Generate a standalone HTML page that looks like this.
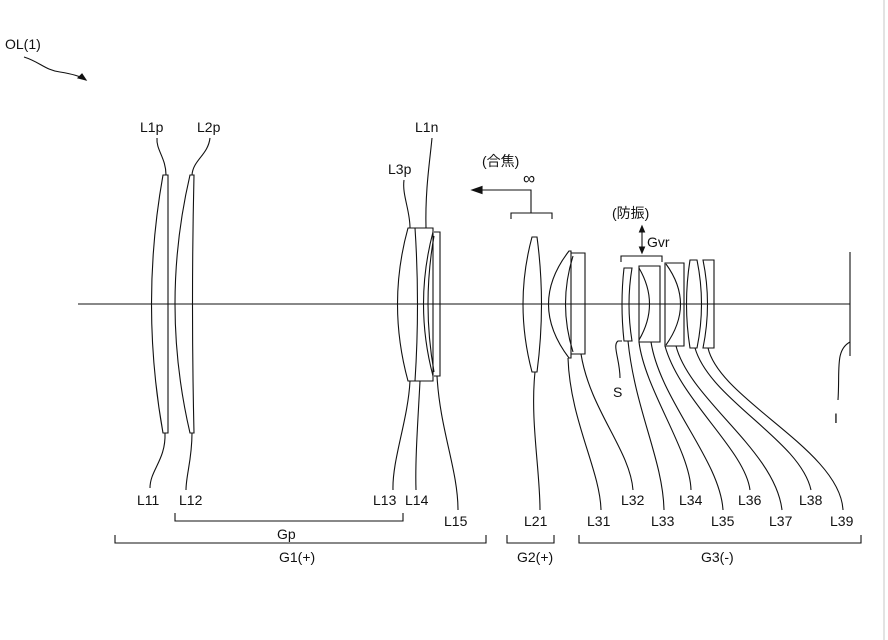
<!DOCTYPE html>
<html><head><meta charset="utf-8"><style>
html,body{margin:0;padding:0;background:#fff;}
svg{display:block}
text{font-family:"Liberation Sans","Noto Sans CJK JP",sans-serif;font-size:14px;fill:#111}
</style></head><body>
<svg width="888" height="640" viewBox="0 0 888 640" xmlns="http://www.w3.org/2000/svg">
<g fill="none" stroke="#111" stroke-width="1.1">
<line x1="884" y1="0" x2="884" y2="640" stroke="#ccc"/>
<line x1="78" y1="304" x2="850" y2="304"/>
<line x1="850" y1="252" x2="850" y2="356"/>
<path d="M24 57 C40 62,45 70,60 72 C72 74,80 76,86 80"/>
<path d="M86 80 L78 78 L82 74 Z" fill="#111"/>
<path d="M163 175 Q140 304 163 433 L168 433 L168 175 Z"/>
<path d="M190 175 Q160 304 190 433 L194 433 Q191 304 194 175 Z"/>
<path d="M408 228 Q387 304 408 381 L433 381 L433 228 Z"/>
<path d="M415 228 Q420 304 415 381"/>
<path d="M433 232 Q414 304 433 376"/>
<path d="M434 232 L440 232 L440 376 L434 376"/>
<path d="M434 236 Q422 304 434 372"/>
<path d="M532 237 L537 237 Q546 304 537 372 L532 372 Q514 304 532 237 Z"/>
<path d="M569 251 Q528 304 569 358 L571 358 L571 251 Z"/>
<path d="M571 253 L585 253 L585 354 L571 354"/>
<path d="M573 256 Q558 304 573 352"/>
<path d="M624 268 L632 268 Q626 304 632 341 L624 341 Q620 304 624 268 Z"/>
<path d="M639 266 L660 266 L660 342 L639 342 Z"/>
<path d="M639 268 Q660 304 639 340"/>
<path d="M665 263 L684 263 L684 346 L665 346 Z"/>
<path d="M666 264 Q695 304 666 345"/>
<path d="M690 260 L697 260 Q706 304 697 348 L690 348 Q683 304 690 260 Z"/>
<path d="M703 260 L714 260 L714 348 L703 348 Q712 304 703 260 Z"/>
<path d="M511 219 L511 213 L552 213 L552 219"/>
<path d="M531 213 L531 190 L480 190"/>
<path d="M472 190 L482 186.5 L482 193.5 Z" fill="#111"/>
<path d="M621 262 L621 256 L662 256 L662 262"/>
<line x1="642" y1="230" x2="642" y2="249"/>
<path d="M642 226 L639.5 232 L644.5 232 Z M642 253 L639.5 247 L644.5 247 Z" fill="#111"/>
<path d="M157 138 C156 150,166 158,166 175"/>
<path d="M210 138 C208 155,193 160,192 175"/>
<path d="M432 138 C430 160,425 190,426 228"/>
<path d="M404 180 C402 195,410 210,410 228"/>
<path d="M165 433 C166 460,150 470,150 488"/>
<path d="M192 433 C192 460,186 475,186 490"/>
<path d="M410 381 C408 420,392 460,393 490"/>
<path d="M420 381 C418 420,415 460,416 490"/>
<path d="M437 376 C440 430,458 470,458 510"/>
<path d="M535 372 C530 420,540 470,540 510"/>
<path d="M568 358 C570 420,600 470,601 510"/>
<path d="M581 354 C590 410,630 450,633 490"/>
<path d="M622 341 L618 341 C612 345,620 360,620 378"/>
<path d="M628 341 C635 410,663 460,664 510"/>
<path d="M639 342 C645 390,690 450,691 490"/>
<path d="M651 342 C660 400,720 460,723 510"/>
<path d="M665 346 C680 400,745 450,750 490"/>
<path d="M676 346 C690 400,775 450,782 510"/>
<path d="M695 348 C710 400,800 440,811 490"/>
<path d="M708 348 C720 400,840 450,843 510"/>
<path d="M850 342 C835 350,840 370,838 400"/>
<path d="M175 513 L175 521 L403 521 L403 513"/>
<path d="M115 535 L115 543 L486 543 L486 535"/>
<path d="M507 535 L507 543 L554 543 L554 535"/>
<path d="M579 535 L579 543 L861 543 L861 535"/>
</g>
<g>
<text x="5" y="49">OL(1)</text>
<text x="140" y="132">L1p</text>
<text x="197" y="132">L2p</text>
<text x="415" y="132">L1n</text>
<text x="388" y="174">L3p</text>
<text x="482" y="166">(合焦)</text>
<text x="523" y="184" style="font-size:17px">∞</text>
<text x="612" y="218">(防振)</text>
<text x="647" y="247">Gvr</text>
<text x="613" y="397">S</text>
<text x="834" y="423">I</text>
<text x="137" y="505">L11</text>
<text x="179" y="505">L12</text>
<text x="373" y="505">L13</text>
<text x="405" y="505">L14</text>
<text x="444" y="526">L15</text>
<text x="524" y="526">L21</text>
<text x="587" y="526">L31</text>
<text x="621" y="505">L32</text>
<text x="651" y="526">L33</text>
<text x="679" y="505">L34</text>
<text x="711" y="526">L35</text>
<text x="738" y="505">L36</text>
<text x="769" y="526">L37</text>
<text x="799" y="505">L38</text>
<text x="830" y="526">L39</text>
<text x="277" y="539">Gp</text>
<text x="279" y="562">G1(+)</text>
<text x="517" y="562">G2(+)</text>
<text x="701" y="562">G3(-)</text>
</g>
</svg>
</body></html>
